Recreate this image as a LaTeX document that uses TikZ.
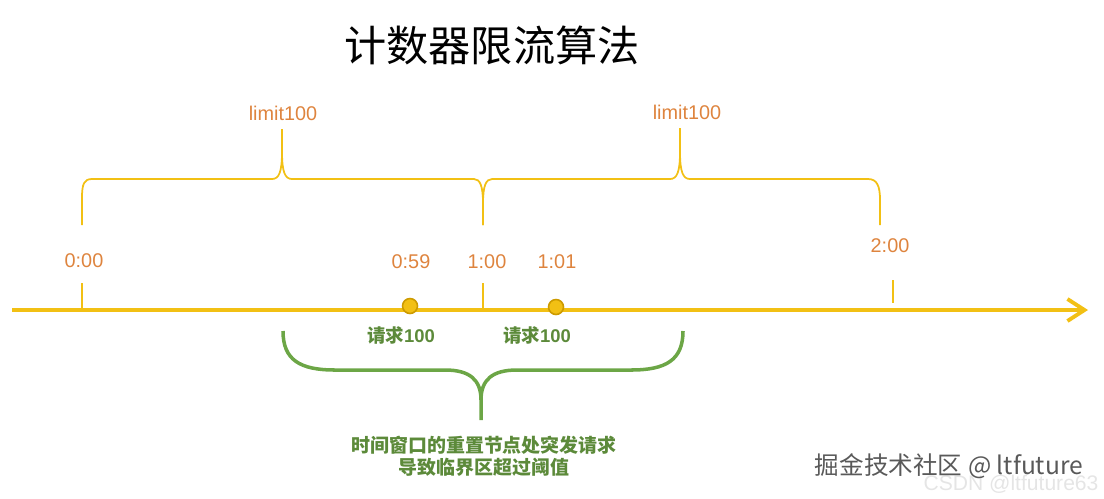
\documentclass[tikz,border=0pt]{standalone}
\usepackage{fontspec}
\setmainfont{Liberation Sans}
\newfontfamily\cjk{Noto Sans CJK SC}
\usetikzlibrary{arrows.meta}
\definecolor{axisgold}{RGB}{242,192,20}
\definecolor{dotedge}{RGB}{205,155,0}
\definecolor{labelorange}{RGB}{222,132,62}
\definecolor{bracegreen}{RGB}{108,166,70}
\definecolor{textgreen}{RGB}{92,138,58}

\begin{document}
\begin{tikzpicture}[x=0.02cm, y=-0.02cm,
    timelbl/.style={text=labelorange, font=\fontsize{11.3}{13}\selectfont, inner sep=1pt},
    reqlbl/.style={text=textgreen, font=\cjk\bfseries\fontsize{10.5}{12}\selectfont, inner sep=1pt},
    tickline/.style={draw=axisgold, line width=0.85pt},
    topbrace/.style={draw=axisgold, line width=1pt},
    reqdot/.style={circle, fill=axisgold, draw=dotedge, line width=0.9pt, minimum size=0.3cm, inner sep=0pt}]
    \useasboundingbox (0,0) rectangle (1104,498);

    \node[font=\cjk\fontsize{24}{28}\selectfont] (title) at (492,45) {计数器限流算法};

    % time axis
    \coordinate (ax0) at (12,310);
    \coordinate (ax1) at (1088,310);
    \draw[draw=axisgold, line width=2.2pt, -{Straight Barb[length=0.34cm, width=0.44cm]}] (ax0) -- (ax1);

    \coordinate (t0a) at (82,283);  \coordinate (t0b) at (82,308);
    \coordinate (t1a) at (483,283); \coordinate (t1b) at (483,308);
    \coordinate (t2a) at (893,280); \coordinate (t2b) at (893,303);
    \draw[tickline] (t0a) -- (t0b);
    \draw[tickline] (t1a) -- (t1b);
    \draw[tickline] (t2a) -- (t2b);

    \node[timelbl] (l000) at (84,261) {0:00};
    \node[timelbl] (l059) at (411,262) {0:59};
    \node[timelbl] (l100) at (487,262) {1:00};
    \node[timelbl] (l101) at (557,262) {1:01};
    \node[timelbl] (l200) at (890,246) {2:00};

    \node[reqdot] (d059) at (410,306) {};
    \node[reqdot] (d101) at (556,307) {};

    % windows
    \node[timelbl] (lim1) at (283,113) {limit100};
    \node[timelbl] (lim2) at (687,112) {limit100};
    \coordinate (w1l) at (82,225);
    \coordinate (w1r) at (483,225);
    \coordinate (w2r) at (880,225);
    \coordinate (w1t) at (282,129);
    \coordinate (w2t) at (680,128);
    \draw[topbrace] (w1l) -- (82,198) .. controls (82,184) and (84,179) .. (92,179) -- (272,179)
        .. controls (279,179) and (282,172) .. (282,152) -- (w1t);
    \draw[topbrace] (282,152) .. controls (282,172) and (285,179) .. (292,179) -- (474,179)
        .. controls (480,179) and (483,186) .. (483,203) -- (w1r);
    \draw[topbrace] (w1r) -- (483,203) .. controls (483,186) and (486,179) .. (492,179) -- (670,179)
        .. controls (677,179) and (680,172) .. (680,152) -- (w2t);
    \draw[topbrace] (680,152) .. controls (680,172) and (683,179) .. (690,179) -- (868,179)
        .. controls (877,179) and (880,186) .. (880,200) -- (w2r);

    % requests
    \node[reqlbl] (r1) at (401,335) {请求{\fontspec{Liberation Sans}\bfseries 100}};
    \node[reqlbl] (r2) at (537,335) {请求{\fontspec{Liberation Sans}\bfseries 100}};

    \coordinate (gl) at (283,331);
    \coordinate (gr) at (683,331);
    \coordinate (gt) at (481,420);
    \draw[draw=bracegreen, line width=2pt] (gl) .. controls (283,360) and (300,370) .. (335,370) -- (445,370)
        .. controls (470,370) and (481,380) .. (481,400) -- (gt);
    \draw[draw=bracegreen, line width=2pt] (481,400) .. controls (481,380) and (492,370) .. (517,370) -- (631,370)
        .. controls (666,370) and (683,360) .. (gr);

    \node[text=textgreen, font=\cjk\bfseries\fontsize{10.8}{12.4}\selectfont, align=center, inner sep=1pt]
        (note) at (484,456) {时间窗口的重置节点处突发请求\\导致临界区超过阈值};

    \node[text=gray!20, font=\fontsize{12}{14}\selectfont] (csdn) at (1011,484) {CSDN @ltfuture63};
    \node[text=black!65, font=\cjk\fontsize{14}{16}\selectfont] (wm) at (949,466) {掘金技术社区 @ ltfuture};
\end{tikzpicture}
\end{document}
